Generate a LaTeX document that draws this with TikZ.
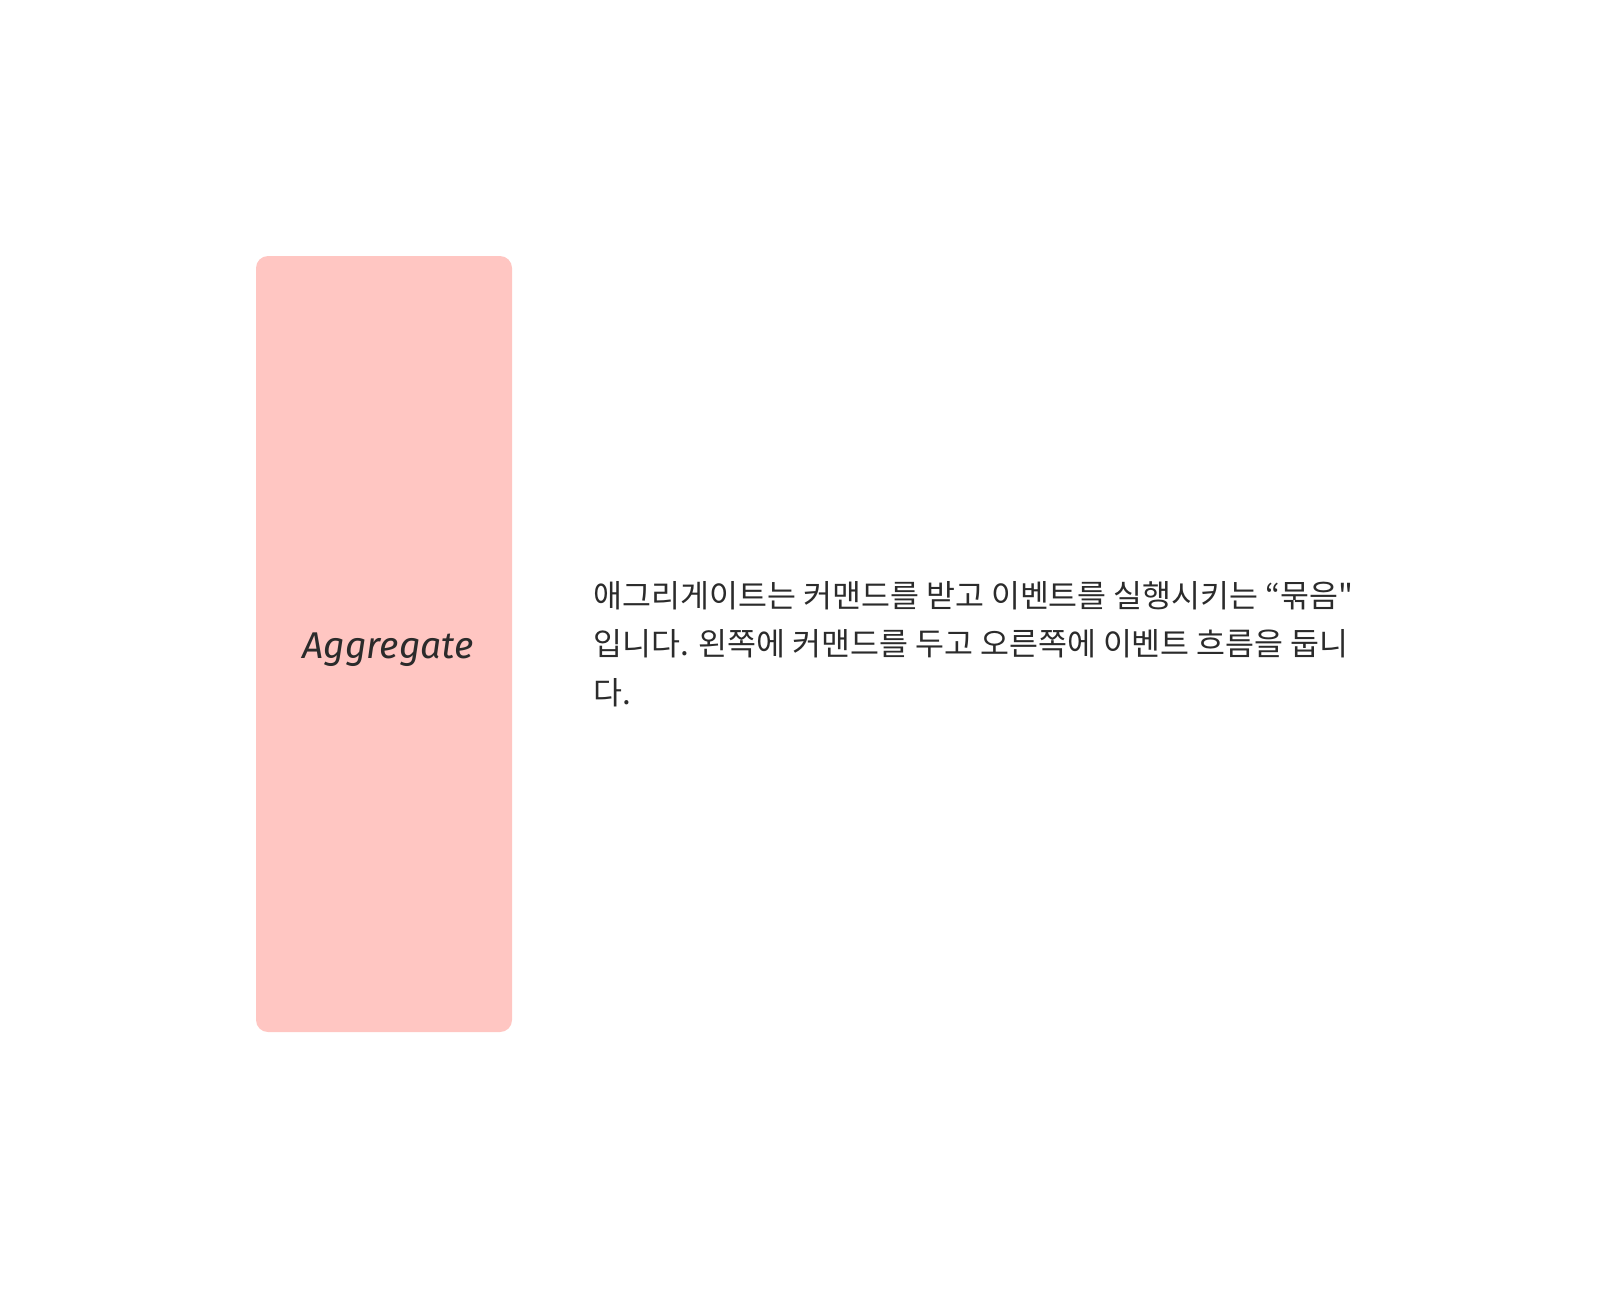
\documentclass[tikz,border=0pt]{standalone}
\usepackage{fontspec}
\setmainfont{Noto Sans CJK KR}[Ligatures=TeXOff]
\newfontfamily\handfont{Fira Sans}
\usepackage{tikz}
\usetikzlibrary{positioning}
\definecolor{aggpink}{HTML}{FFC6C2}
\definecolor{inkgray}{HTML}{2B2B2B}
\tikzset{
  aggbox/.style={fill=aggpink,rounded corners=1.2mm,draw=none},
  agglabel/.style={font=\handfont\itshape\fontsize{10.6pt}{12pt}\selectfont,text=inkgray},
  desc/.style={font=\fontsize{8.95pt}{13.7pt}\selectfont,text=inkgray,align=left,inner sep=0pt}
}
\begin{document}
\begin{tikzpicture}[x=0.1mm,y=-0.1mm]
\useasboundingbox (0,0) rectangle (1610,1288);
\fill[aggbox] (256,256) rectangle (512,1032);
\node[agglabel] (agg) at (388,650) {Aggregate};
\node[desc,anchor=north west] (text) at (593,581)
  {애그리게이트는 커맨드를 받고 이벤트를 실행시키는 “묶음"\\
   입니다. 왼쪽에 커맨드를 두고 오른쪽에 이벤트 흐름을 둡니\\
   다.};
\end{tikzpicture}
\end{document}
